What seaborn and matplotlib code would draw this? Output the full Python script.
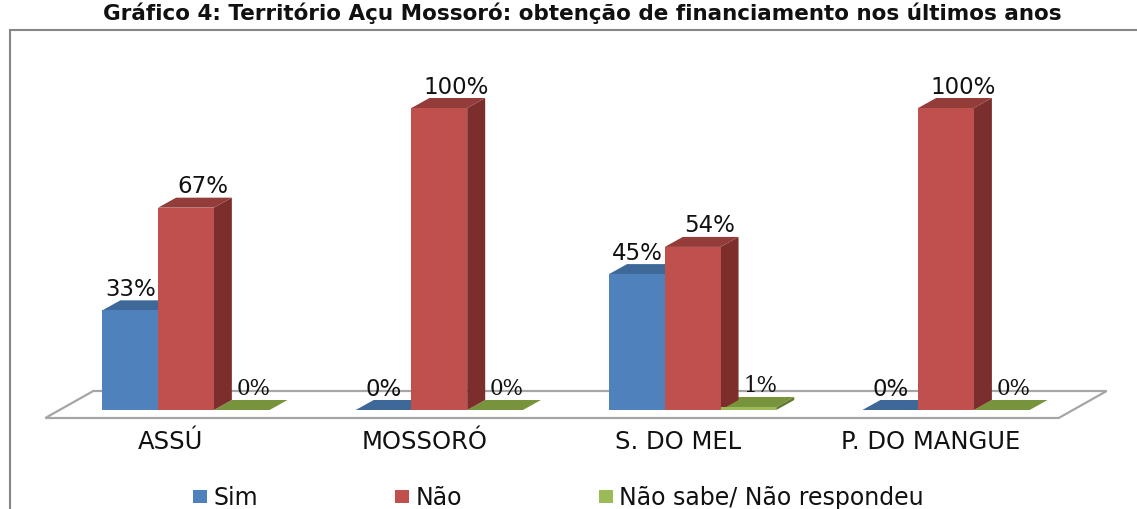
"""
Gráfico 4 - Território Açu Mossoró: obtenção de financiamento nos últimos anos.
Bar chart with a fake 3D look (top and side faces) drawn on top of seaborn bars.
"""
import matplotlib
matplotlib.use("Agg")
import matplotlib.pyplot as plt
import seaborn as sns
import pandas as pd
from matplotlib.patches import Polygon, Rectangle

TITLE = "Gráfico 4: Território Açu Mossoró: obtenção de financiamento nos últimos anos"

categories = ["ASSÚ", "MOSSORÓ", "S. DO MEL", "P. DO MANGUE"]
series = ["Sim", "Não", "Não sabe/ Não respondeu"]
sim = [33, 0, 45, 0]
nao = [67, 100, 54, 100]
nao_sabe = [0, 0, 1, 0]
values = [sim, nao, nao_sabe]

front_colors = ["#4F81BD", "#C0504D", "#9BBB59"]
top_colors = ["#3D6897", "#933C3A", "#77933C"]
side_colors = ["#3A5F8C", "#7B2E2C", "#5F7A2E"]
label_dx = [0, 17, 12]  # horizontal nudge of the value labels, in pixels

W, H = 1137, 509
DEPTH_X, DEPTH_Y = 18, 10  # 3D depth of the bars, in pixels

df = pd.DataFrame({
    "regiao": categories * len(series),
    "resposta": [s for s in series for _ in categories],
    "valor": sim + nao + nao_sabe,
})

sns.set_theme(style="white")
plt.rcParams["font.family"] = ["DejaVu Sans"]
plt.rcParams["text.color"] = "#111111"

fig = plt.figure(figsize=(W / 100, H / 100), dpi=100)
fig.patch.set_facecolor("white")
ax = fig.add_axes([59.3 / W, 99 / H, 1013.4 / W, 302 / H])

sns.barplot(data=df, x="regiao", y="valor", hue="resposta", order=categories,
            hue_order=series, palette=front_colors, saturation=1, width=0.66,
            errorbar=None, legend=False, ax=ax, zorder=3, linewidth=0)

ax.set_xlim(-0.5, 3.5)
ax.set_ylim(0, 100)
ax.set_xticks([])
ax.set_yticks([])
ax.set_xlabel("")
ax.set_ylabel("")
for s in ax.spines.values():
    s.set_visible(False)
ax.patch.set_alpha(0)

# pixel -> data unit conversion
p0 = ax.transData.transform((0, 0))
p1 = ax.transData.transform((1, 1))
ppx, ppy = p1[0] - p0[0], p1[1] - p0[1]
dx, dy = DEPTH_X / ppx, DEPTH_Y / ppy

# floor
x_lo, x_hi = ax.get_xlim()
floor = Polygon([(x_lo - 14 / ppx, -8 / ppy), (x_hi - 14 / ppx, -8 / ppy),
                 (x_hi + 34 / ppx, 19 / ppy), (x_lo + 34 / ppx, 19 / ppy)],
                closed=True, facecolor="white", edgecolor="#A6A6A6",
                linewidth=1.6, zorder=1, clip_on=False)
ax.add_patch(floor)

# top / side faces and value labels
for k, container in enumerate(ax.containers):
    for patch, v in zip(container.patches, values[k]):
        x0, w, h = patch.get_x(), patch.get_width(), patch.get_height()
        x1 = x0 + w
        z = 2 + 0.1 * (2 - k)
        side = Polygon([(x1, 0), (x1 + dx, dy), (x1 + dx, h + dy), (x1, h)],
                       closed=True, facecolor=side_colors[k], edgecolor="none",
                       zorder=z, clip_on=False)
        top = Polygon([(x0, h), (x1, h), (x1 + dx, h + dy), (x0 + dx, h + dy)],
                      closed=True, facecolor=top_colors[k], edgecolor="none",
                      zorder=z, clip_on=False)
        ax.add_patch(side)
        ax.add_patch(top)
        fam = ["DejaVu Serif"] if k == 2 else ["DejaVu Sans"]
        ax.annotate(f"{v}%", (x0 + w / 2, h), xytext=(label_dx[k], 21),
                    textcoords="offset pixels", ha="center", va="center",
                    fontsize=16.5 if k < 2 else 15.5, family=fam,
                    color="#111111", annotation_clip=False, zorder=5)

# category labels
for i, cat in enumerate(categories):
    ax.annotate(cat, (i, 0), xytext=(-15, -32), textcoords="offset pixels",
                ha="center", va="center", fontsize=17.5, color="#111111",
                annotation_clip=False)

# legend
handles = [Rectangle((0, 0), 1, 1, facecolor=c, edgecolor="none") for c in front_colors]
fig.legend(handles, series, loc="center left", bbox_to_anchor=(193 / W, (H - 498) / H),
           ncol=3, frameon=False, borderpad=0, borderaxespad=0, handlelength=0.59,
           handleheight=0.42, handletextpad=0.27, columnspacing=5.8, fontsize=17,
           labelcolor="#111111")

# chart frame and title
fig.add_artist(Rectangle((10 / W, -0.1), 1.2, (1 - 30 / H) + 0.1, transform=fig.transFigure,
                         fill=False, edgecolor="#868686", linewidth=1.5))
fig.text(582 / W, 1 - 2 / H, TITLE, ha="center", va="top", fontsize=15.5,
         fontweight="bold", color="#111111")

fig.savefig("out.png", dpi=100)
plt.close(fig)
